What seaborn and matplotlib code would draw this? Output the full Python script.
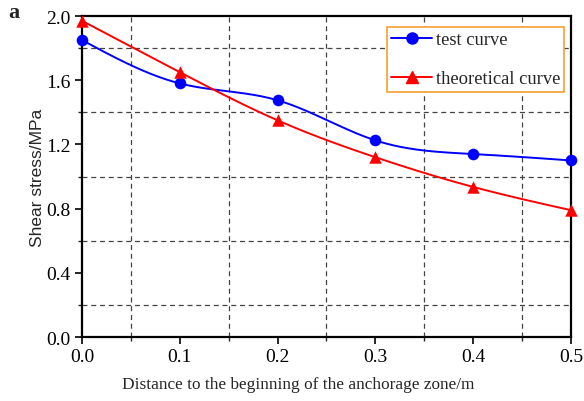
import numpy as np
import pandas as pd
import matplotlib
matplotlib.use("Agg")
import matplotlib.pyplot as plt
from matplotlib.lines import Line2D
from matplotlib.ticker import MultipleLocator
import seaborn as sns

# Measured and theoretical shear stress along the anchorage zone
distance = [0.0, 0.1, 0.2, 0.3, 0.4, 0.5]
test_stress = [1.85, 1.58, 1.475, 1.225, 1.14, 1.10]
theory_stress = [1.97, 1.65, 1.35, 1.12, 0.935, 0.79]

x_ticks = [0.0, 0.1, 0.2, 0.3, 0.4, 0.5]
y_ticks = [0.0, 0.4, 0.8, 1.2, 1.6, 2.0]


def natural_spline(x, y, n=200):
    """Smooth natural cubic spline through the given points (for drawing)."""
    x = np.asarray(x, float)
    y = np.asarray(y, float)
    k = len(x)
    h = np.diff(x)
    A = np.zeros((k, k))
    b = np.zeros(k)
    A[0, 0] = A[-1, -1] = 1.0
    for i in range(1, k - 1):
        A[i, i - 1] = h[i - 1]
        A[i, i] = 2 * (h[i - 1] + h[i])
        A[i, i + 1] = h[i]
        b[i] = 3 * ((y[i + 1] - y[i]) / h[i] - (y[i] - y[i - 1]) / h[i - 1])
    c = np.linalg.solve(A, b)
    xs = np.linspace(x[0], x[-1], n)
    ys = np.empty_like(xs)
    for j, xv in enumerate(xs):
        i = min(np.searchsorted(x, xv, side="right") - 1, k - 2)
        dx = xv - x[i]
        bi = (y[i + 1] - y[i]) / h[i] - h[i] * (2 * c[i] + c[i + 1]) / 3
        di = (c[i + 1] - c[i]) / (3 * h[i])
        ys[j] = y[i] + bi * dx + c[i] * dx ** 2 + di * dx ** 3
    return xs, ys


sns.set_theme(style="white")
plt.rcParams["font.family"] = ["Liberation Serif", "DejaVu Serif"]
plt.rcParams["mathtext.fontset"] = "stix"

fig = plt.figure(figsize=(5.84, 4.02), dpi=100)
ax = fig.add_axes([0.1404, 0.1592, 0.8373, 0.7985])

pts = pd.DataFrame({"x": distance, "test": test_stress, "theory": theory_stress})
xs1, ys1 = natural_spline(distance, test_stress)
xs2, ys2 = natural_spline(distance, theory_stress)
curves = pd.DataFrame({"x": xs1, "test": ys1, "theory": ys2})

sns.lineplot(data=curves, x="x", y="test", ax=ax, color="blue", lw=1.4, zorder=3)
sns.lineplot(data=curves, x="x", y="theory", ax=ax, color="red", lw=1.4, zorder=3)
sns.scatterplot(data=pts, x="x", y="test", ax=ax, color="blue", marker="o",
                s=70, edgecolor="blue", linewidth=0, zorder=4, clip_on=False)
sns.scatterplot(data=pts, x="x", y="theory", ax=ax, color="red", marker="^",
                s=80, edgecolor="red", linewidth=0, zorder=4, clip_on=False)

ax.set_xlim(0, 0.5)
ax.set_ylim(0, 2.0)
ax.set_xticks(x_ticks)
ax.set_yticks(y_ticks)
ax.set_xticklabels([f"{v:.1f}" for v in x_ticks])
ax.set_yticklabels([f"{v:.1f}" for v in y_ticks])
ax.xaxis.set_minor_locator(MultipleLocator(0.05))
ax.yaxis.set_minor_locator(MultipleLocator(0.2))

# dashed grid on the minor positions only
for xv in np.arange(0.05, 0.5, 0.1):
    ax.axvline(xv, color="#444444", ls=(0, (4, 3)), lw=0.9, zorder=1)
for yv in np.arange(0.2, 2.0, 0.4):
    ax.axhline(yv, color="#444444", ls=(0, (4, 3)), lw=0.9, zorder=1)

for s in ax.spines.values():
    s.set_visible(True)
    s.set_color("black")
    s.set_linewidth(1.6)

ax.tick_params(axis="both", which="major", direction="out", length=5, width=1.2,
               labelsize=14, colors="black", bottom=True, left=True, pad=3)
ax.tick_params(axis="both", which="minor", direction="out", length=3, width=1.0,
               bottom=True, left=True)

ax.set_xlabel("Distance to the beginning of the anchorage zone/m", fontsize=12.4)
ax.xaxis.set_label_coords(0.442, -0.122)
ax.set_ylabel("Shear stress/MPa", fontsize=12.5,
              family=["Liberation Sans", "DejaVu Sans"])
ax.yaxis.set_label_coords(-0.076, 0.5)

handles = [
    Line2D([0], [0], color="blue", lw=1.4, marker="o", ms=8),
    Line2D([0], [0], color="red", lw=1.4, marker="^", ms=8),
]
leg = ax.legend(handles, ["test curve", "theoretical curve"], loc="upper right",
                bbox_to_anchor=(0.9857, 0.965), borderaxespad=0, frameon=True,
                fancybox=False, fontsize=13.3, handlelength=2.2,
                labelspacing=1.2, borderpad=0.22, handletextpad=0.2,
                framealpha=1)
leg.get_frame().set_edgecolor("#f5a030")
leg.get_frame().set_linewidth(1.2)
leg.set_zorder(6)

fig.text(0.014, 0.968, "a", fontsize=16, fontweight="bold", va="center", ha="left")

fig.savefig("out.png", dpi=100, facecolor="white")
